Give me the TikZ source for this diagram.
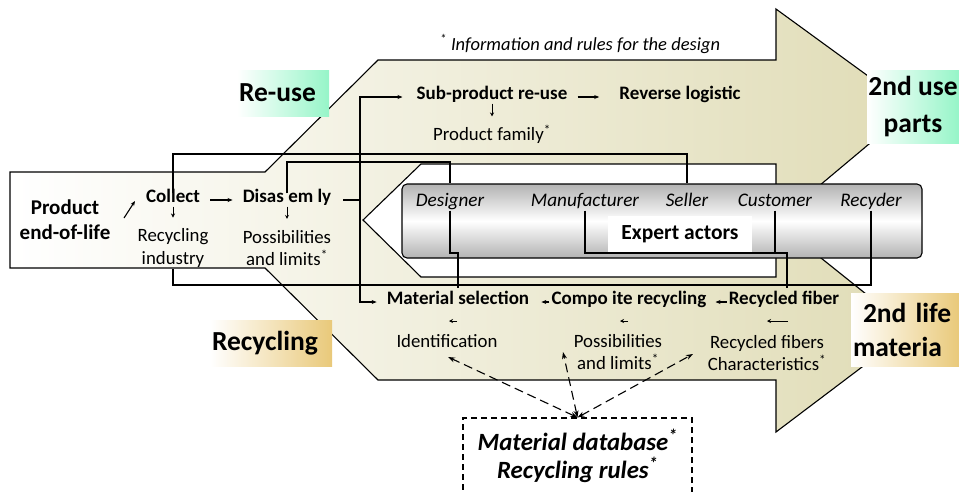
\documentclass[tikz,border=0pt]{standalone}
\usepackage{fontspec}
\setmainfont{Carlito}
\usetikzlibrary{arrows.meta}
\definecolor{khaki}{RGB}{224,220,182}
\definecolor{mint}{RGB}{150,245,200}
\definecolor{gold}{RGB}{233,201,122}
\tikzset{
  tag/.style={
    inner sep=0pt,
    align=center,
    font=\fontsize{27.5}{35}\selectfont\bfseries
  },
  link/.style={line width=1.1pt}
}

\begin{document}
\begin{tikzpicture}[x=1pt,y=-1pt,
    item/.style={
      inner sep=2pt,
      text height=0.7em,
      text depth=0.2em,
      font=\fontsize{19}{23}\selectfont\bfseries
    },
    note/.style={
      inner sep=2pt,
      align=center,
      font=\fontsize{18.8}{22.5}\selectfont
    },
    actor/.style={
      inner sep=2pt,
      text height=0.7em,
      text depth=0.2em,
      font=\fontsize{19.2}{22}\selectfont\itshape
    },
    flow/.style={
      link,
      -{Stealth[length=5pt,width=4pt]}
    },
    tick/.style={
      line width=0.8pt,
      -{Stealth[length=4pt,width=4pt]}
    },
    dlink/.style={
      link,
      dash pattern=on 9pt off 5pt,
      {Stealth[length=7pt,width=5pt]}-{Stealth[length=7pt,width=5pt]}
    }
  ]
  \useasboundingbox (0,0) rectangle (959,491);
  \shade[draw,link,left color=white,right color=khaki] (10,172) -- (265,172) -- (378,60) -- (776,60) -- (776,9) -- (912,108) -- (776,222)
    -- (911,330) -- (776,432) -- (776,380) -- (378,380) -- (265,268) -- (10,268) -- cycle;
  \filldraw[link,fill=white] (363,220) -- (421,164) -- (776,164) -- (776,277) -- (421,277) -- cycle;
  \node[draw,link,rounded corners=5pt,minimum width=520,minimum height=74,top color=gray!60,bottom color=gray!60,middle color=white] (actors) at (662,221) {};
  \node[actor] (designer) at (450,204) {Designer};
  \node[actor] (manuf) at (585,204) {Manufacturer};
  \node[actor] (seller) at (687,204) {Seller};
  \node[actor] (customer) at (775,204) {Customer};
  \node[actor] (recycler) at (871,204) {Recyder};
  \node[fill=white,minimum width=144,minimum height=36,font=\fontsize{21.5}{26}\selectfont\bfseries] (expert) at (680,234) {Expert actors};
  \node[font=\fontsize{18.5}{22}\selectfont\itshape] (info) at (580,44) {\textsuperscript{*} Information and rules for the design};
  \node[align=center,font=\fontsize{21}{25}\selectfont\bfseries] (product) at (65,220) {Product\\end-of-life};
  \node[item] (collect) at (173,200) {Collect};
  \node[item] (disas) at (287,200) {Disas em ly};
  \node[note] (recind) at (173,248) {Recycling\\industry};
  \node[note] (dposs) at (287,248) {Possibilities\\and limits\textsuperscript{*}};
  \node[item] (subprod) at (492,97) {Sub-product re-use};
  \node[item] (revlog) at (680,97) {Reverse logistic};
  \node[note] (family) at (492,134) {Product family\textsuperscript{*}};
  \node[item] (matsel) at (458,302) {Material selection};
  \node[item] (compo) at (629,302) {Compo ite recycling};
  \node[item] (recfib) at (784,302) {Recycled fiber};
  \node[note] (ident) at (447,341) {Identification};
  \node[note] (rposs) at (618,352) {Possibilities\\and limits\textsuperscript{*}};
  \node[note] (rchar) at (767,353) {Recycled fibers\\Characteristics\textsuperscript{*}};
  \node[draw,link,dash pattern=on 6pt off 4pt,minimum width=229,minimum height=76,align=center,font=\fontsize{24.8}{28}\selectfont\bfseries\itshape] (dbox) at (577.5,456) {Material database\textsuperscript{*}\\Recycling rules\textsuperscript{*}};
  \coordinate (p1) at (124,218);
  \coordinate (p2) at (135,201);
  \draw[flow] (p1) -- (p2);
  \draw[flow,shorten <=8pt,shorten >=8pt] (collect) -- (disas);
  \draw[tick,shorten >=9pt] (collect) -- (recind);
  \draw[tick,shorten >=9pt] (disas) -- (dposs);
  \draw[tick,shorten >=6pt] (subprod) -- (family);
  \coordinate (j) at (360,200);
  \draw[link,shorten <=10pt] (disas.east) -- (j);
  \draw[flow,shorten >=12pt] (j) |- (subprod.west);
  \draw[flow,shorten >=8pt] (j) |- (matsel.west);
  \draw[flow,shorten <=8pt,shorten >=18pt] (subprod) -- (revlog);
  \draw[flow,shorten >=7pt] (recfib) -- (compo);
  \draw[flow,shorten >=10pt] (compo) -- (matsel);
  \coordinate (m1) at (457,321);
  \coordinate (m2) at (449,321);
  \draw[tick] (m1) -- (m2);
  \coordinate (m3) at (628,321);
  \coordinate (m4) at (620,321);
  \draw[tick] (m3) -- (m4);
  \coordinate (m5) at (788,321);
  \coordinate (m6) at (767,321);
  \draw[tick] (m5) -- (m6);
  \coordinate (b1) at (687,154);
  \draw[link] (collect.north) |- (b1) -- (b1 |- actors.north);
  \coordinate (b2) at (450,162);
  \draw[link] (disas.north) |- (b2) -- (b2 |- actors.north);
  \coordinate (b3) at (458,253);
  \draw[link,shorten >=7pt] (designer.south) |- (b3) -- (b3 |- matsel.north);
  \coordinate (b4) at (787,253);
  \draw[link,shorten >=7pt] (manuf.south) |- (b4) -- (b4 |- recfib.north);
  \draw[link] (customer.south) -- (customer.south |- b4);
  \coordinate (b5) at (872,285);
  \draw[link] (recycler.south) -- (recycler.south |- b5) -| (recind.south);
  \coordinate (t1) at (448,357);
  \coordinate (t2) at (563,352);
  \coordinate (t3) at (693,354);
  \draw[dlink] (dbox.north) -- (t1);
  \draw[dlink] (dbox.north) -- (t2);
  \draw[dlink] (dbox.north) -- (t3);
  \node[tag,left color=white,right color=mint,inner xsep=2pt,text width=88,align=left,minimum height=46] (reuse) at (283,93) {Re-use};
  \node[tag,left color=white,right color=mint,minimum width=92,minimum height=73,font=\fontsize{27.5}{37}\selectfont\bfseries] (useparts) at (913,106.5) {2nd use\\parts};
  \node[tag,left color=white,right color=gold,inner xsep=2pt,text width=118,align=left,minimum height=46] (recyc) at (271,343) {Recycling};
  \node[tag,left color=white,right color=gold,inner xsep=2pt,text width=104,align=left,minimum height=73,font=\fontsize{27.5}{34}\selectfont\bfseries] (lifemat) at (905,329.5) {\hspace*{10pt}2nd life\\materia};
\end{tikzpicture}
\end{document}
